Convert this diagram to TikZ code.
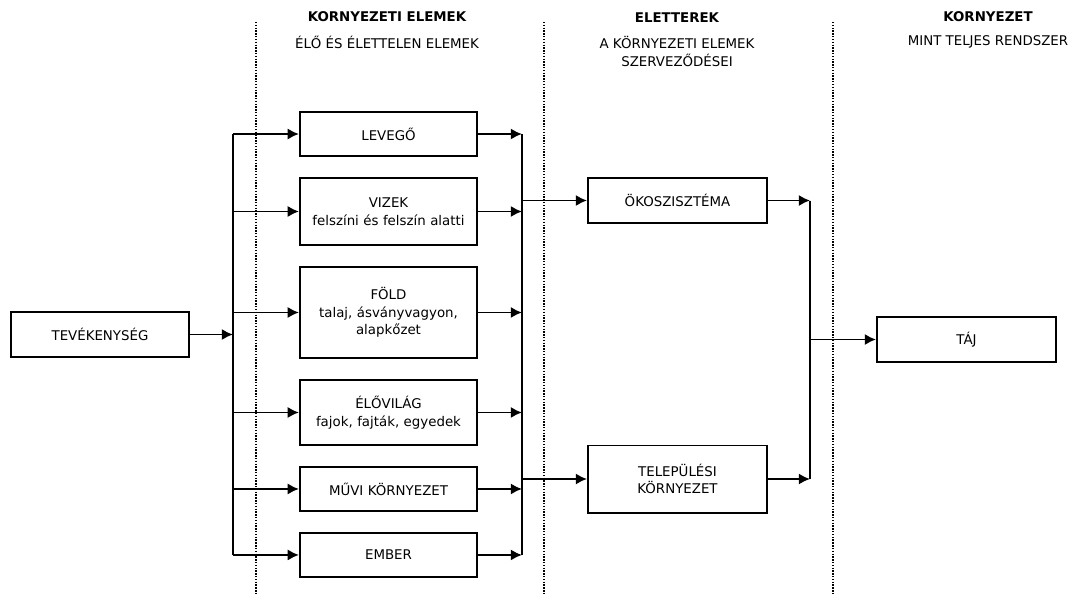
\documentclass[tikz,border=0pt]{standalone}
\usepackage{fontspec}
\setmainfont{DejaVu Sans}
\usepackage{tikz}
\usetikzlibrary{positioning,arrows.meta}
\tikzset{elem-box/.style={rectangle, minimum width=4.43cm, minimum height=1.1cm, text centered, text width=4.2cm, inner sep=0pt, draw=black, line width=1.4pt, fill=white, font=\fontsize{9.5}{12.6}\selectfont},
head/.style={align=center, inner sep=0pt, font=\fontsize{9.5}{12.2}\selectfont},
bus/.style={line width=1.4pt},
sep-line/.style={line width=1.2pt, dash pattern=on 1pt off 1pt},
arrow/.style={line width=1.4pt,->,>={Latex[length=2.8mm,width=2.8mm]}}}

\begin{document}
\begin{tikzpicture}[x=0.025cm, y=-0.025cm, node distance=0.5cm]
\useasboundingbox (0,0) rectangle (1070,594);
\draw [sep-line] (256,22) -- (256,594);
\draw [sep-line] (544,22) -- (544,594);
\draw [sep-line] (833,22) -- (833,594);
\node (h1) [head, font=\fontsize{9.5}{12.2}\selectfont\bfseries] at (387,17) {KORNYEZETI ELEMEK};
\node (s1) [head] at (387,42) {ÉLŐ ÉS ÉLETTELEN ELEMEK};
\node (h2) [head, font=\fontsize{9.5}{12.2}\selectfont\bfseries] at (677,18) {ELETTEREK};
\node (s2) [head] at (677,51.5) {A KÖRNYEZETI ELEMEK\\SZERVEZŐDÉSEI};
\node (h3) [head, font=\fontsize{9.5}{12.2}\selectfont\bfseries] at (988,17) {KORNYEZET};
\node (s3) [head] at (988,42) {MINT TELJES RENDSZER};
\node (n0) [elem-box, minimum width=4.45cm, minimum height=1.12cm] at (100,334.5) {TEVÉKENYSÉG};
\node (n1) [elem-box] at (388.5,134) {LEVEGŐ};
\node (n2) [elem-box, below=of n1, minimum height=1.675cm] {VIZEK\\felszíni és felszín alatti};
\node (n3) [elem-box, below=of n2, minimum height=2.275cm] {FÖLD\\talaj, ásványvagyon,\\alapkőzet};
\node (n4) [elem-box, below=of n3, minimum height=1.625cm] {ÉLŐVILÁG\\fajok, fajták, egyedek};
\node (n5) [elem-box, below=of n4] {MŰVI KÖRNYEZET};
\node (n6) [elem-box, below=of n5] {EMBER};
\node (n7) [elem-box, minimum width=4.475cm, minimum height=1.125cm] at (677.5,200.5) {ÖKOSZISZTÉMA};
\node (n8) [elem-box, minimum width=4.475cm, minimum height=1.675cm] at (677.5,479) {TELEPÜLÉSI\\KÖRNYEZET};
\node (n9) [elem-box, minimum width=4.475cm, minimum height=1.125cm] at (966.5,339.5) {TÁJ};
\coordinate (b1) at (233,0);
\coordinate (b2) at (522,0);
\coordinate (b3) at (810,0);
\draw [arrow] (n0) -- (n0 -| b1);
\draw [bus] (n1 -| b1) -- (n6 -| b1);
\draw [arrow] (n1 -| b1) -- (n1);
\draw [arrow] (n2 -| b1) -- (n2);
\draw [arrow] (n3 -| b1) -- (n3);
\draw [arrow] (n4 -| b1) -- (n4);
\draw [arrow] (n5 -| b1) -- (n5);
\draw [arrow] (n6 -| b1) -- (n6);
\draw [arrow] (n1) -- (n1 -| b2);
\draw [arrow] (n2) -- (n2 -| b2);
\draw [arrow] (n3) -- (n3 -| b2);
\draw [arrow] (n4) -- (n4 -| b2);
\draw [arrow] (n5) -- (n5 -| b2);
\draw [arrow] (n6) -- (n6 -| b2);
\draw [bus] (n1 -| b2) -- (n6 -| b2);
\draw [arrow] (n7 -| b2) -- (n7);
\draw [arrow] (n8 -| b2) -- (n8);
\draw [arrow] (n7) -- (n7 -| b3);
\draw [arrow] (n8) -- (n8 -| b3);
\draw [bus] (n7 -| b3) -- (n8 -| b3);
\draw [arrow] (n9 -| b3) -- (n9);
\end{tikzpicture}
\end{document}
